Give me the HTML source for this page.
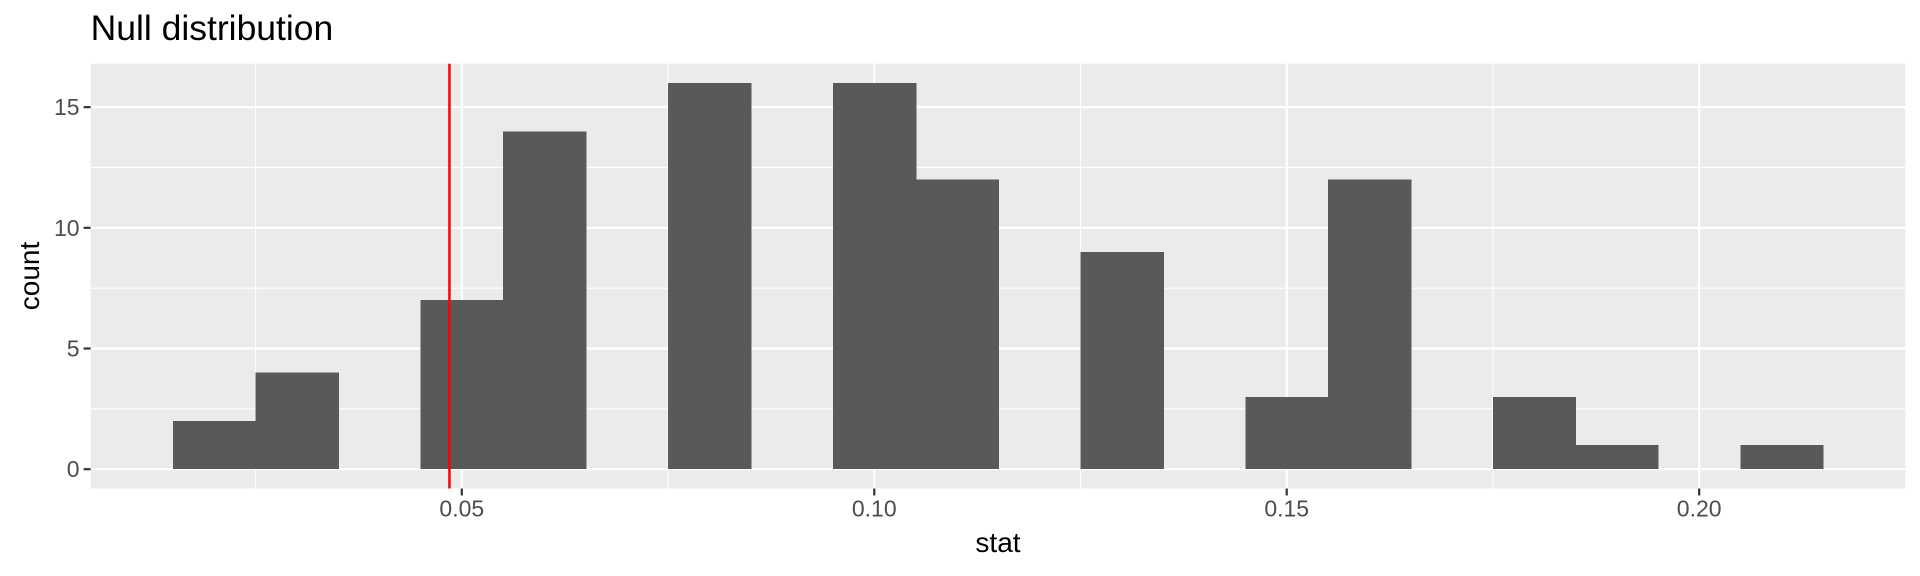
<!DOCTYPE html>
<html><head><meta charset="utf-8"><style>
html,body{margin:0;padding:0;background:#fff;}
svg{display:block;font-family:"Liberation Sans",sans-serif;}
</style></head><body>
<svg id="chart" width="1920" height="576" viewBox="0 0 1920 576">
<rect width="1920" height="576" fill="#fff"/>
<text x="90.6" y="40" font-size="35.5" fill="#000">Null distribution</text>
<rect id="panel" x="90.6" y="63.7" width="1814.8" height="424.8" fill="#ebebeb"/>
<g id="grid"></g>
<g id="bars" shape-rendering="crispEdges"></g>
<g id="ref"></g>
<g id="axes"></g>
<text x="998" y="552" font-size="28" text-anchor="middle" fill="#000">stat</text>
<text transform="translate(39,276) rotate(-90)" font-size="28" text-anchor="middle" fill="#000">count</text>
</svg>
<script>
const binCenters=[0.02,0.03,0.04,0.05,0.06,0.07,0.08,0.09,0.10,0.11,0.12,0.13,0.14,0.15,0.16,0.17,0.18,0.19,0.20,0.21];
const binCounts=[2,4,0,7,14,0,16,0,16,12,0,9,0,3,12,0,3,1,0,1];
const binWidth=0.01;
const xTicks=[0.05,0.10,0.15,0.20];
const xTickLabels=["0.05","0.10","0.15","0.20"];
const xMinor=[0.025,0.075,0.125,0.175];
const yTicks=[0,5,10,15];
const yMinor=[2.5,7.5,12.5];
const obsStat=[0.0485];
const NS="http://www.w3.org/2000/svg";
const L=90.6,R=1905.4,T=63.7,B=488.5;
const xmin=0.005,xmax=0.225,ymin=-0.8,ymax=16.8;
const X=v=>L+(v-xmin)/(xmax-xmin)*(R-L);
const Y=v=>B-(v-ymin)/(ymax-ymin)*(B-T);
function mk(tag,attrs,parent){const e=document.createElementNS(NS,tag);for(const k in attrs)e.setAttribute(k,attrs[k]);document.getElementById(parent).appendChild(e);return e;}
xMinor.forEach(v=>{const e=mk('line',{x1:X(v),x2:X(v),y1:T,y2:B,stroke:'#fff','stroke-width':1.1},'grid');

});
yMinor.forEach(v=>{const e=mk('line',{x1:L,x2:R,y1:Y(v),y2:Y(v),stroke:'#fff','stroke-width':1.1},'grid');

});
xTicks.forEach(v=>{const e=mk('line',{x1:X(v),x2:X(v),y1:T,y2:B,stroke:'#fff','stroke-width':2.2},'grid');

});
yTicks.forEach(v=>{const e=mk('line',{x1:L,x2:R,y1:Y(v),y2:Y(v),stroke:'#fff','stroke-width':2.2},'grid');

});
binCenters.forEach((c,i)=>{if(binCounts[i]<=0)return;
const x0=X(c-binWidth/2),x1=X(c+binWidth/2);
const e=mk('rect',{x:x0,y:Y(binCounts[i]),width:x1-x0+0.8,height:Y(0)-Y(binCounts[i]),fill:'#595959'},'bars');

});
obsStat.forEach(v=>{const e=mk('line',{x1:X(v),x2:X(v),y1:T,y2:B,stroke:'#ff0000','stroke-width':2.5},'ref');

});
xTicks.forEach((v,i)=>{const t=mk('line',{x1:X(v),x2:X(v),y1:B,y2:B+7,stroke:'#333','stroke-width':2.2},'axes');


const l=mk('text',{x:X(v),y:B+28,'font-size':23,'text-anchor':'middle',fill:'#4d4d4d'},'axes');l.textContent=xTickLabels[i];

});
yTicks.forEach(v=>{const t=mk('line',{x1:L-7,x2:L,y1:Y(v),y2:Y(v),stroke:'#333','stroke-width':2.2},'axes');


const l=mk('text',{x:L-11,y:Y(v)+8,'font-size':23,'text-anchor':'end',fill:'#4d4d4d'},'axes');l.textContent=String(v);

});
</script>
</body></html>
